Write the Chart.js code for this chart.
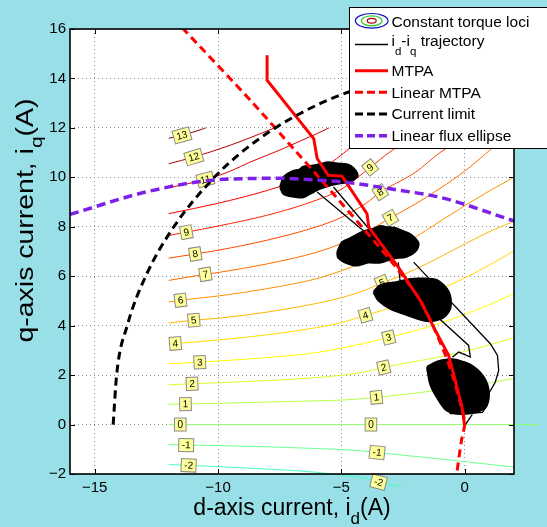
<!DOCTYPE html>
<html>
<head>
<meta charset="utf-8">
<title>Constant torque loci and d-q current trajectory</title>
<script src="https://cdn.jsdelivr.net/npm/chart.js@4.4.1/dist/chart.umd.min.js"></script>
<style>
  html, body { margin: 0; padding: 0; background: #98dfe8; overflow: hidden; }
  canvas { display: block; }
</style>
</head>
<body>
<canvas id="chart" width="547" height="527"></canvas>
<script>
// ---------- axes ----------
const xTicks = [-15, -10, -5, 0];
const yTicks = [-2, 0, 2, 4, 6, 8, 10, 12, 14, 16];

// ---------- constant torque loci, points are [id, iq] in A ----------
const torqueLevels = [-2, -1, 0, 1, 2, 3, 4, 5, 6, 7, 8, 9, 10, 11, 12, 13];

const locusNeg2 = [[-12,-1.62],[-11.19,-1.65],[-10,-1.70],[-8,-1.80],[-6,-1.93],[-5,-2.05],[-4,-2.18],[-3.49,-2.33],[-3.0,-2.43],[-2.55,-2.5]];
const locusNeg1 = [[-12,-0.81],[-11.29,-0.83],[-10,-0.85],[-8,-0.90],[-6,-0.97],[-5,-1.01],[-4,-1.08],[-3.55,-1.13],[-3,-1.19],[-2,-1.29],[-1,-1.39],[0,-1.50],[1,-1.61],[2,-1.72],[3,-1.80]];
const locus0 = [[-12,0],[-11.53,0],[-3.8,0],[3,0]];
const locus1 = [[-12,0.82],[-11.32,0.83],[-10,0.86],[-8,0.91],[-6,0.96],[-5,0.99],[-4,1.06],[-3.58,1.10],[-3,1.16],[-2,1.27],[-1,1.40],[0,1.54],[1,1.69],[2,1.86],[3,2.0]];
const locus2 = [[-12,1.61],[-11.05,1.65],[-10,1.69],[-8,1.78],[-6,1.90],[-5,1.99],[-4,2.14],[-3.28,2.31],[-3,2.37],[-2,2.55],[-1,2.74],[0,2.96],[1,3.22],[2,3.52],[3,3.92]];
const locus3 = [[-12,2.46],[-10.74,2.52],[-10,2.57],[-8,2.71],[-6,2.91],[-5,3.09],[-4,3.30],[-3.08,3.52],[-2,3.80],[-1,4.10],[0,4.45],[1,4.85],[2,5.30],[3,5.78]];
const locus4 = [[-12,3.27],[-11.73,3.28],[-10,3.42],[-8,3.63],[-6,3.92],[-5,4.12],[-4.02,4.42],[-3,4.72],[-2,5.07],[-1,5.47],[0,5.93],[1,6.45],[2,7.03],[3,7.62]];
const locus5 = [[-12,4.11],[-10.98,4.22],[-10,4.30],[-8,4.55],[-6,4.90],[-5,5.13],[-4,5.45],[-3.35,5.74],[-3,5.86],[-2,6.28],[-1,6.78],[0,7.30],[1,7.80],[2,8.25],[3,8.95]];
const locus6 = [[-12,4.96],[-11.52,5.03],[-10,5.20],[-8,5.50],[-6,5.90],[-5,6.22],[-4,6.60],[-3.4,6.88],[-3,7.05],[-2,7.58],[-1,8.22],[0,8.85],[1,9.45],[2,10.02],[3,10.8]];
const locus7 = [[-12,5.83],[-10.51,6.08],[-10,6.15],[-8,6.50],[-6,6.97],[-5,7.32],[-4,7.78],[-3.01,8.36],[-2,8.92],[-1,9.55],[0,10.25],[1,11.08],[1.6,11.6],[2.15,12.0]];
const locus8 = [[-12,6.73],[-10.92,6.90],[-10,7.05],[-8,7.46],[-6,8.00],[-5,8.38],[-4,8.95],[-3.42,9.40],[-2,10.2],[-1,11.0],[0,11.6],[0.6,12.0]];
const locus9 = [[-12,7.65],[-11.28,7.78],[-10,8.03],[-8,8.47],[-6,9.08],[-5,9.52],[-4.4,9.95],[-3.83,10.40],[-3,11.05],[-2.2,11.55],[-1.5,12.0]];
const locus10 = [[-12,8.53],[-10,8.95],[-8,9.47],[-7,9.80],[-6,10.2],[-5.2,10.75],[-4.63,11.2],[-4.1,11.62],[-3.6,12.0]];
const locus11 = [[-12,9.58],[-10.51,9.91],[-9.5,10.25],[-8.69,10.62],[-7.5,11.1],[-6.6,11.5],[-5.98,11.77],[-5.5,12.0]];
const locus12 = [[-12,10.55],[-10.98,10.82],[-9.5,11.3],[-8.5,11.68],[-7.88,11.93],[-7.7,12.0]];
const locus13 = [[-12,11.58],[-11.46,11.70],[-10.58,11.97],[-10.5,12.0]];

const loci = [locusNeg2, locusNeg1, locus0, locus1, locus2, locus3, locus4, locus5,
              locus6, locus7, locus8, locus9, locus10, locus11, locus12, locus13];

// inline level labels: [level, id, iq]
const torqueLabels = [
  [13,-11.46,11.70],[12,-10.98,10.82],[11,-10.51,9.91],[9,-11.28,7.78],[8,-10.92,6.90],
  [7,-10.51,6.08],[6,-11.52,5.03],[5,-10.98,4.22],[4,-11.73,3.28],[3,-10.74,2.52],
  [2,-11.05,1.65],[1,-11.32,0.83],[0,-11.53,0],[-1,-11.29,-0.83],[-2,-11.19,-1.65],
  [9,-3.83,10.40],[8,-3.42,9.40],[7,-3.01,8.36],[6,-3.4,6.88],[5,-3.35,5.74],
  [4,-4.02,4.42],[3,-3.08,3.52],[2,-3.28,2.31],[1,-3.58,1.10],[0,-3.8,0],
  [-1,-3.55,-1.13],[-2,-3.49,-2.33]
];

// ---------- measured id-iq trajectory ----------
// dense steady-state clusters (outlines)
const cluster1 = [[-7.47,9.61],[-7.40,9.85],[-7.34,10.01],[-6.98,10.24],[-6.70,10.30],[-6.54,10.42],[-6.20,10.46],[-5.93,10.51],[-5.55,10.60],[-5.17,10.55],[-4.75,10.51],[-4.51,10.36],[-4.35,10.08],[-4.51,9.90],[-4.77,9.81],[-5.32,9.72],[-5.85,9.55],[-6.26,9.35],[-6.54,9.20],[-6.98,9.23],[-7.35,9.35]];
const cluster2 = [[-5.16,6.97],[-4.96,7.37],[-4.63,7.53],[-4.15,7.78],[-3.74,7.90],[-3.40,8.02],[-3.21,7.98],[-2.85,7.95],[-2.61,7.86],[-2.20,7.69],[-1.88,7.33],[-2.00,7.01],[-2.36,6.80],[-2.93,6.72],[-3.42,6.56],[-3.91,6.56],[-4.39,6.44],[-4.84,6.56],[-5.12,6.76]];
const cluster3 = [[-3.69,5.36],[-3.42,5.63],[-2.74,5.76],[-2.20,5.88],[-1.80,5.90],[-1.12,5.83],[-0.65,5.36],[-0.58,4.75],[-0.85,4.35],[-1.30,4.20],[-1.66,4.22],[-2.47,4.49],[-3.01,4.69],[-3.49,5.02]];
const cluster4 = [[-1.52,2.33],[-1.12,2.53],[-0.70,2.62],[-0.31,2.60],[0.36,2.33],[0.84,1.79],[0.97,1.11],[0.77,0.64],[-0.04,0.44],[-0.71,0.57],[-1.12,1.11],[-1.39,1.65]];
const clusters = [cluster1, cluster2, cluster3, cluster4];

// transitions between the clusters
const transitionA = [[0.03,0.0],[0.31,0.41]];
const transitionB = [[-0.50,2.72],[-0.24,2.93],[0.23,2.73],[0.16,3.20],[-1.26,4.49]];
const transitionC = [[-2.61,5.71],[-2.69,6.56]];
const transitionD = [[-3.96,7.72],[-5.98,9.41]];
const transitionE = [[-5.32,9.61],[-3.83,7.86]];
const transitionF = [[-2.07,6.57],[1.04,3.27],[1.33,2.80],[1.38,2.19],[1.24,1.71],[1.00,1.30],[0.92,0.78],[0.72,0.49],[0.10,0.44],[-0.58,0.44],[-0.65,0.57]];
const transitions = [transitionA, transitionB, transitionC, transitionD, transitionE, transitionF];

// ---------- reference curves ----------
const mtpa = [[-8.01,14.94],[-8.01,13.93],[-6.12,11.57],[-5.98,10.76],[-5.53,10.08],[-4.97,10.05],[-3.96,8.53],[-3.89,7.99],[-2.69,6.37],[-1.80,5.02],[-1.19,3.81],[-0.65,2.80],[-0.38,1.79],[-0.11,0.71],[0,-0.05]];
const linearMtpa = [[-11.45,16.05],[-8.68,13.11],[-6.88,11.09],[-5.98,10.08],[-3.01,6.64],[-1.73,4.90],[-0.70,2.60],[-0.09,0.57],[0,0],[-0.13,-0.64],[-0.33,-2.05]];
const currentLimit = [[-14.25,0],[-14.11,2],[-13.68,4],[-12.93,6],[-11.79,8],[-10.15,10],[-9.06,11],[-7.68,12],[-5.83,13],[-4.56,13.5],[-2.66,14],[0,14.25]];
const fluxEllipse = [[-16,8.50],[-12.74,9.45],[-9.90,9.91],[-7.47,9.96],[-5.85,9.88],[-4.92,9.81],[-2.61,9.47],[-0.99,9.19],[2.05,8.22]];

// ---------- styling ----------
const FONT = '"Liberation Sans", Arial, Helvetica, sans-serif';
const levelColors = [
  'rgb(73,255,182)', 'rgb(109,255,146)', 'rgb(146,255,109)', 'rgb(182,255,73)',
  'rgb(219,255,36)', 'rgb(255,255,0)', 'rgb(255,219,0)', 'rgb(255,182,0)',
  'rgb(255,146,0)', 'rgb(255,109,0)', 'rgb(255,73,0)', 'rgb(255,36,0)',
  'rgb(255,0,0)', 'rgb(219,0,0)', 'rgb(182,0,0)', 'rgb(146,0,0)'
];
const PURPLE = 'rgb(125,32,235)';

const toXY = pts => pts.map(([x, y]) => ({x, y}));

const datasets = [];
loci.forEach((locus, i) => datasets.push({
  data: toXY(locus), borderColor: levelColors[i], borderWidth: 1,
  showLine: true, pointRadius: 0, clip: false,
  cubicInterpolationMode: 'monotone', order: 100
}));
clusters.forEach(c => datasets.push({
  data: toXY(c.concat([c[0]])), borderColor: '#000', backgroundColor: '#000',
  borderWidth: 2.5, fill: 'shape', showLine: true, pointRadius: 0, tension: 0.3, order: 60
}));
transitions.forEach(t => datasets.push({
  data: toXY(t), borderColor: '#000', borderWidth: 1.3,
  showLine: true, pointRadius: 0, tension: 0, order: 50
}));
datasets.push({data: toXY(mtpa), borderColor: '#ff0000', borderWidth: 3,
  showLine: true, pointRadius: 0, tension: 0, order: 40});
datasets.push({data: toXY(linearMtpa), borderColor: '#ff0000', borderWidth: 3, borderDash: [8, 5],
  showLine: true, pointRadius: 0, tension: 0.25, order: 30});
datasets.push({data: toXY(currentLimit), borderColor: '#000', borderWidth: 3, borderDash: [8, 5],
  showLine: true, pointRadius: 0, cubicInterpolationMode: 'monotone', order: 20});
datasets.push({data: toXY(fluxEllipse), borderColor: PURPLE, borderWidth: 3.5, borderDash: [9, 5],
  showLine: true, pointRadius: 0, cubicInterpolationMode: 'monotone', order: 10});

// white plotting area on the coloured figure
const plotBackground = {
  id: 'plotBackground',
  beforeDraw(chart) {
    const {ctx, chartArea: a} = chart;
    ctx.save();
    ctx.fillStyle = '#ffffff';
    ctx.fillRect(a.left, a.top, a.right - a.left, a.bottom - a.top);
    ctx.restore();
  }
};

// inline level labels on the torque loci
const lociLabels = {
  id: 'lociLabels',
  afterDatasetDraw(chart, args) {
    if (args.index !== 0) return;
    const {ctx} = chart;
    const xs = chart.scales.x, ys = chart.scales.y;
    ctx.save();
    ctx.font = '10px ' + FONT;
    ctx.textAlign = 'center';
    ctx.textBaseline = 'middle';
    torqueLabels.forEach(([lvl, id, iq]) => {
      const locus = loci[torqueLevels.indexOf(lvl)];
      let k = locus.findIndex(p => p[0] === id && p[1] === iq);
      if (k < 0) k = 0;
      const a = locus[Math.max(0, k - 1)], b = locus[Math.min(locus.length - 1, k + 1)];
      const ang = Math.atan2(ys.getPixelForValue(b[1]) - ys.getPixelForValue(a[1]),
                             xs.getPixelForValue(b[0]) - xs.getPixelForValue(a[0]));
      const cx = xs.getPixelForValue(id), cy = ys.getPixelForValue(iq);
      const txt = String(lvl);
      const w = ctx.measureText(txt).width + 6, h = 13;
      ctx.save();
      ctx.translate(cx, cy);
      ctx.rotate(ang);
      ctx.fillStyle = '#ffff99';
      ctx.fillRect(-w / 2, -h / 2, w, h);
      ctx.strokeStyle = '#8a8a8a';
      ctx.lineWidth = 1;
      ctx.strokeRect(-w / 2, -h / 2, w, h);
      ctx.fillStyle = '#000';
      ctx.fillText(txt, 0, 0.5);
      ctx.restore();
    });
    ctx.restore();
  }
};

// axes box with inward tick marks
const axesFrame = {
  id: 'axesFrame',
  afterDatasetsDraw(chart) {
    const {ctx, chartArea: a} = chart;
    const xs = chart.scales.x, ys = chart.scales.y;
    ctx.save();
    ctx.strokeStyle = '#000';
    ctx.lineWidth = 1;
    ctx.beginPath();
    xTicks.forEach(v => {
      const p = Math.round(xs.getPixelForValue(v)) + 0.5;
      ctx.moveTo(p, a.bottom); ctx.lineTo(p, a.bottom - 5);
      ctx.moveTo(p, a.top); ctx.lineTo(p, a.top + 5);
    });
    yTicks.forEach(v => {
      const p = Math.round(ys.getPixelForValue(v)) + 0.5;
      ctx.moveTo(a.left, p); ctx.lineTo(a.left + 5, p);
      ctx.moveTo(a.right, p); ctx.lineTo(a.right - 5, p);
    });
    ctx.stroke();
    ctx.lineWidth = 1.6;
    ctx.strokeRect(a.left, a.top, a.right - a.left, a.bottom - a.top);
    ctx.restore();
  }
};

function drawRich(ctx, parts, x, y, size, subSize, drop) {
  let cx = x;
  parts.forEach(([t, sub]) => {
    ctx.font = (sub ? subSize : size) + 'px ' + FONT;
    ctx.fillText(t, cx, sub ? y + drop : y);
    cx += ctx.measureText(t).width;
  });
  return cx - x;
}
function richWidth(ctx, parts, size, subSize) {
  let w = 0;
  parts.forEach(([t, sub]) => {
    ctx.font = (sub ? subSize : size) + 'px ' + FONT;
    w += ctx.measureText(t).width;
  });
  return w;
}

// axis titles and legend
const annotations = {
  id: 'annotations',
  afterDraw(chart) {
    const {ctx, chartArea: a} = chart;
    ctx.save();
    ctx.fillStyle = '#000';
    ctx.textBaseline = 'alphabetic';
    ctx.textAlign = 'left';

    // x axis title
    const xt = [['d-axis current, i', 0], ['d', 1], ['(A)', 0]];
    const xw = richWidth(ctx, xt, 23, 17);
    drawRich(ctx, xt, (a.left + a.right) / 2 - xw / 2, 515, 23, 17, 9);

    // y axis title (set wider along its run)
    const yt = [['q-axis current, i', 0], ['q', 1], ['(A)', 0]];
    const yw = richWidth(ctx, yt, 23, 17);
    const stretch = 244 / yw;
    ctx.save();
    ctx.translate(33, 220.5);
    ctx.rotate(-Math.PI / 2);
    ctx.scale(stretch, 1);
    drawRich(ctx, yt, -yw / 2, 0, 23, 17, 9);
    ctx.restore();

    // legend box
    ctx.fillStyle = '#fff';
    ctx.fillRect(349.5, 7.5, 220, 141);
    ctx.strokeStyle = '#000';
    ctx.lineWidth = 1;
    ctx.strokeRect(349.5, 7.5, 220, 141);

    const x0 = 355, x1 = 388, tx = 391.5;
    // constant torque loci symbol
    const ell = (rx, ry, col) => {
      ctx.beginPath();
      ctx.ellipse(371.7, 20.8, rx, ry, 0, 0, Math.PI * 2);
      ctx.strokeStyle = col; ctx.lineWidth = 1.2; ctx.stroke();
    };
    ell(16.3, 7.3, '#1010c8');
    ell(10.3, 5.0, '#33cc33');
    ell(4.5, 2.4, '#b00000');

    const seg = (y, col, w, dash) => {
      ctx.beginPath();
      ctx.setLineDash(dash);
      ctx.strokeStyle = col; ctx.lineWidth = w;
      ctx.moveTo(x0, y); ctx.lineTo(x1, y); ctx.stroke();
      ctx.setLineDash([]);
    };
    seg(44.5, '#000', 1.3, []);
    seg(70.7, '#ff0000', 3, []);
    seg(92.3, '#ff0000', 3, [8, 4]);
    seg(114, '#000', 3, [8, 4]);
    seg(135.7, PURPLE, 3.5, [8, 4]);

    ctx.fillStyle = '#000';
    const LS = 15.5;
    ctx.font = LS + 'px ' + FONT;
    ctx.fillText('Constant torque loci', tx, 26.5);
    drawRich(ctx, [['i', 0], ['d', 1], ['-i', 0], ['q', 1], [' trajectory', 0]], tx, 45.5, LS, 11.5, 9);
    ctx.font = LS + 'px ' + FONT;
    ctx.fillText('MTPA', tx, 76.2);
    ctx.fillText('Linear MTPA', tx, 97.7);
    ctx.fillText('Current limit', tx, 119.4);
    ctx.fillText('Linear flux ellipse', tx, 141.1);
    ctx.restore();
  }
};

const gridStyle = {color: '#8c8c8c', lineWidth: 1, drawTicks: false};
const tickFont = {family: FONT, size: 15};
const minus = v => String(v).replace('-', '\u2212');

new Chart(document.getElementById('chart'), {
  type: 'scatter',
  data: {datasets},
  plugins: [plotBackground, lociLabels, axesFrame, annotations],
  options: {
    responsive: false,
    animation: false,
    events: [],
    layout: {padding: {left: 0, top: 29, right: 33, bottom: 0}},
    plugins: {legend: {display: false}, tooltip: {enabled: false}},
    scales: {
      x: {
        type: 'linear', min: -16, max: 2,
        afterBuildTicks: s => { s.ticks = xTicks.map(value => ({value})); },
        afterFit: s => { s.height = 53; },
        grid: gridStyle,
        border: {display: false, dash: [1, 3]},
        ticks: {font: tickFont, color: '#000', padding: 5, maxRotation: 0, callback: minus}
      },
      y: {
        type: 'linear', min: -2, max: 16,
        afterBuildTicks: s => { s.ticks = yTicks.map(value => ({value})); },
        afterFit: s => { s.width = 70; },
        grid: gridStyle,
        border: {display: false, dash: [1, 3]},
        ticks: {font: tickFont, color: '#000', padding: 4, callback: minus}
      }
    }
  }
});
</script>
</body>
</html>
